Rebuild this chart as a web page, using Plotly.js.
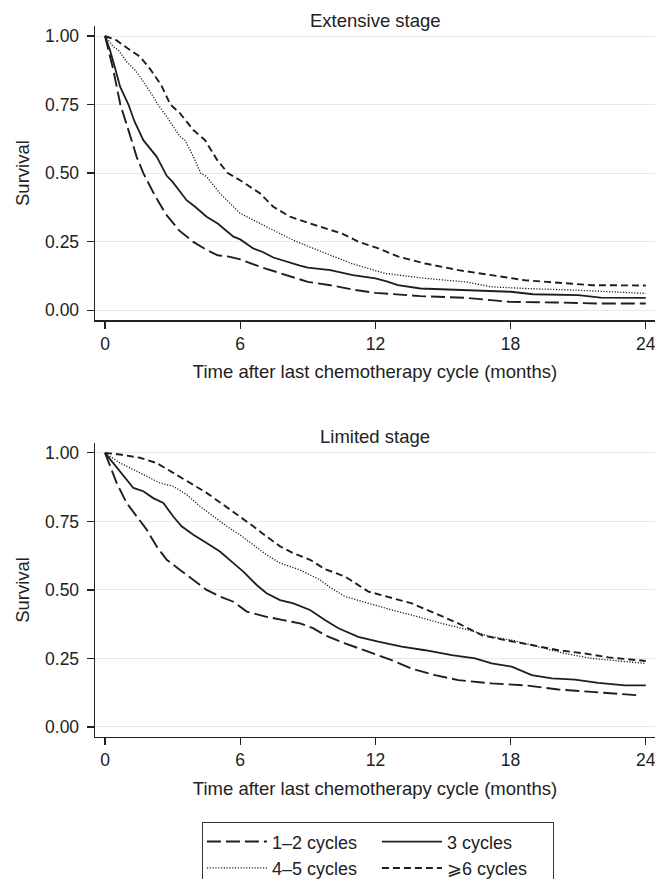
<!DOCTYPE html>
<html><head><meta charset="utf-8">
<script src="https://cdn.plot.ly/plotly-3.0.1.min.js"></script>
<style>html,body{margin:0;padding:0;background:#fff;}</style>
</head><body><div id="chart" style="width:655px;height:879px;"></div>
<script>
// ---------- data ----------
const seriesNames = ['1–2 cycles', '3 cycles', '4–5 cycles', '⩾6 cycles'];
const panelTitles = ['Extensive stage', 'Limited stage'];
const xTitle = 'Time after last chemotherapy cycle (months)';
const yTitle = 'Survival';
const xTicks = [0, 6, 12, 18, 24];
const yTicks = [0, 0.25, 0.5, 0.75, 1];

// Extensive stage
const ext12_t = [0,0.15,0.37,0.68,1.0,1.18,1.4,1.7,2.2,2.7,3.3,3.9,4.5,5.0,5.5,6.0,7.0,8.0,9.0,10.0,11.0,12.0,13.0,14.0,16.0,18.0,20.0,22.0,24.0];
const ext12_s = [1,0.949,0.876,0.75,0.67,0.62,0.56,0.50,0.42,0.35,0.29,0.25,0.22,0.20,0.195,0.185,0.155,0.128,0.103,0.091,0.075,0.063,0.057,0.051,0.045,0.030,0.028,0.024,0.024];
const ext3_t = [0,0.22,0.47,0.67,1.04,1.3,1.7,2.29,2.74,3.0,3.62,4.0,4.51,5.0,5.7,6.0,6.58,7.0,7.47,8.0,8.65,9.0,10.0,11.0,12.0,12.5,13.0,14.0,16.0,18.0,19.0,21.0,22.0,24.0];
const ext3_s = [1,0.949,0.876,0.815,0.75,0.69,0.62,0.56,0.49,0.468,0.401,0.377,0.341,0.316,0.268,0.258,0.225,0.212,0.192,0.178,0.162,0.155,0.146,0.128,0.116,0.105,0.091,0.079,0.073,0.067,0.058,0.055,0.046,0.045];
const ext45_t = [0,0.37,0.59,0.96,1.33,1.55,2.14,2.35,2.74,3.33,3.55,3.92,4.25,4.51,5.1,5.7,6.0,7.17,8.36,9.25,9.98,10.95,12.43,14.21,15.98,17.16,18.64,20.86,24.0];
const ext45_s = [1,0.961,0.949,0.906,0.876,0.852,0.779,0.75,0.706,0.633,0.62,0.56,0.50,0.487,0.426,0.377,0.353,0.304,0.255,0.225,0.201,0.170,0.134,0.116,0.103,0.085,0.079,0.073,0.061];
const ext6_t = [0,0.5,1.0,1.55,2.0,2.5,2.9,3.33,3.92,4.44,4.96,5.45,5.99,6.88,7.47,8.21,9.10,9.76,10.5,11.24,12.13,13.02,14.21,15.68,17.16,18.64,20.12,21.6,24.0];
const ext6_s = [1,0.985,0.955,0.925,0.88,0.82,0.75,0.718,0.657,0.62,0.55,0.50,0.474,0.426,0.377,0.341,0.316,0.298,0.280,0.250,0.225,0.195,0.170,0.146,0.128,0.109,0.100,0.091,0.090];

// Limited stage
const lim12_t = [0,0.22,0.52,0.96,1.41,1.85,2.29,2.74,3.33,3.92,4.51,5.1,5.7,6.29,7.17,7.91,8.65,9.25,9.76,10.65,11.69,12.72,13.61,14.65,15.68,17.16,18.64,20.12,21.6,23.6];
const lim12_s = [1,0.951,0.890,0.817,0.768,0.720,0.659,0.610,0.573,0.537,0.500,0.476,0.457,0.421,0.402,0.390,0.378,0.360,0.335,0.305,0.274,0.244,0.213,0.189,0.171,0.159,0.152,0.137,0.128,0.116];
const lim3_t = [0,0.37,0.81,1.26,1.70,2.14,2.59,3.03,3.40,3.92,4.51,5.10,5.70,6.14,6.73,7.17,7.77,8.36,9.10,9.76,10.36,11.24,12.13,13.17,14.21,15.39,16.42,17.16,18.05,18.94,19.83,20.86,21.89,23.07,24.0];
const lim3_s = [1,0.963,0.915,0.872,0.860,0.835,0.817,0.768,0.732,0.701,0.671,0.640,0.598,0.567,0.518,0.488,0.463,0.451,0.427,0.390,0.360,0.329,0.311,0.293,0.280,0.262,0.250,0.232,0.220,0.189,0.177,0.173,0.161,0.152,0.152];
const lim45_t = [0,0.67,1.26,1.85,2.44,3.03,3.62,4.22,4.81,5.40,5.99,6.58,7.17,7.77,8.65,9.54,9.98,10.65,11.69,12.72,13.90,14.94,16.12,17.16,18.05,19.23,20.41,21.60,22.78,24.0];
const lim45_s = [1,0.963,0.939,0.915,0.890,0.878,0.848,0.805,0.768,0.732,0.701,0.665,0.628,0.598,0.573,0.537,0.510,0.476,0.451,0.427,0.402,0.378,0.354,0.329,0.317,0.293,0.268,0.250,0.241,0.232];
const lim6_t = [0,0.67,1.55,2.29,3.03,3.77,4.51,5.25,5.99,6.58,7.17,7.77,8.36,9.10,9.76,10.65,11.69,12.72,13.61,14.65,15.68,16.72,17.75,18.94,20.12,21.30,22.34,24.0];
const lim6_s = [1,0.994,0.982,0.963,0.927,0.890,0.854,0.811,0.768,0.732,0.695,0.659,0.634,0.610,0.576,0.549,0.494,0.470,0.451,0.415,0.378,0.335,0.317,0.299,0.280,0.268,0.254,0.241];

// ---------- styles ----------
const ink = '#1e1e1e';
const styles = [
  {dash: '14px,5px', width: 1.9, group: 'a'},
  {dash: 'solid', width: 1.8, group: 'b'},
  {dash: '1.2px,1.6px', width: 1.3, group: 'a'},
  {dash: '7px,4px', width: 1.9, group: 'b'}
];
const extData = [[ext12_t, ext12_s], [ext3_t, ext3_s], [ext45_t, ext45_s], [ext6_t, ext6_s]];
const limData = [[lim12_t, lim12_s], [lim3_t, lim3_s], [lim45_t, lim45_s], [lim6_t, lim6_s]];

const traces = [];
extData.forEach((d, i) => traces.push({
  x: d[0], y: d[1], type: 'scatter', mode: 'lines', name: seriesNames[i],
  line: {color: ink, width: styles[i].width, dash: styles[i].dash, shape: 'linear'},
  legendgroup: styles[i].group, showlegend: true, xaxis: 'x', yaxis: 'y', hoverinfo: 'skip'
}));
limData.forEach((d, i) => traces.push({
  x: d[0], y: d[1], type: 'scatter', mode: 'lines', name: seriesNames[i],
  line: {color: ink, width: styles[i].width, dash: styles[i].dash, shape: 'linear'},
  legendgroup: styles[i].group, showlegend: false, xaxis: 'x2', yaxis: 'y2', hoverinfo: 'skip'
}));

const fontFam = 'Liberation Sans, Arial, Helvetica, sans-serif';
const tickSize = 17.5, titleSize = 18.5, legendSize = 18;
function xAx(anchor) {
  return {
    anchor: anchor, domain: [0, 1], range: [-0.444, 24.41],
    tickvals: xTicks, ticks: 'outside', ticklen: 7, tickwidth: 1.2, tickcolor: '#222',
    ticklabeloverflow: 'allow',
    showline: true, linecolor: '#222', linewidth: 1.4, showgrid: false, zeroline: false,
    tickfont: {size: tickSize, color: '#222'},
    title: {text: xTitle, font: {size: titleSize, color: '#222'}, standoff: 12}
  };
}
function yAx(anchor, dom) {
  return {
    anchor: anchor, domain: dom, range: [-0.0365, 1.0365],
    tickvals: yTicks, tickformat: '.2f', ticks: 'outside', ticklen: 7, tickwidth: 1.2, tickcolor: '#222',
    ticklabelstandoff: 4,
    showline: true, linecolor: '#222', linewidth: 1.4, showgrid: true, gridcolor: '#e8e8e8', gridwidth: 1,
    zeroline: false, tickfont: {size: tickSize, color: '#222'},
    title: {text: yTitle, font: {size: titleSize, color: '#222'}, standoff: 10}
  };
}

const layout = {
  width: 655, height: 879,
  margin: {l: 95, r: 0, t: 26, b: 142, pad: 0},
  paper_bgcolor: '#fff', plot_bgcolor: '#fff',
  font: {family: fontFam, size: 17, color: '#222'},
  xaxis: xAx('y'), yaxis: yAx('x', [0.5863, 1]),
  xaxis2: xAx('y2'), yaxis2: yAx('x2', [0, 0.4137]),
  showlegend: true,
  legend: {
    orientation: 'h', traceorder: 'grouped', xref: 'container', yref: 'container',
    x: 0.577, xanchor: 'center', y: 0.0648, yanchor: 'top',
    itemwidth: 60, entrywidth: 100, bordercolor: '#333', borderwidth: 1.3,
    bgcolor: '#fff', font: {size: legendSize, color: '#222'}, itemclick: false, itemdoubleclick: false
  },
  annotations: [
    {text: panelTitles[0], xref: 'paper', yref: 'paper', x: 0.5, y: 1.0075, xanchor: 'center', yanchor: 'middle', showarrow: false, font: {size: titleSize, color: '#222'}},
    {text: panelTitles[1], xref: 'paper', yref: 'paper', x: 0.5, y: 0.4221, xanchor: 'center', yanchor: 'middle', showarrow: false, font: {size: titleSize, color: '#222'}}
  ]
};

Plotly.newPlot('chart', traces, layout, {staticPlot: true, displayModeBar: false});
</script>
</body></html>
